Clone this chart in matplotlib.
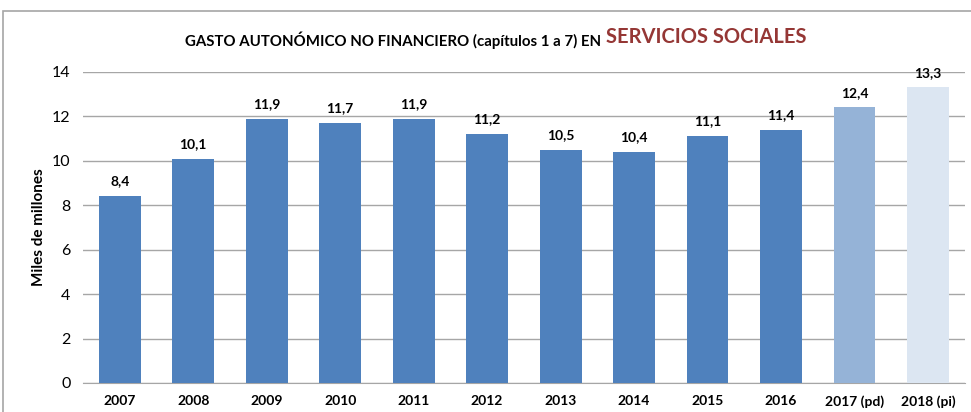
import matplotlib.pyplot as plt
from matplotlib.patches import Rectangle

# Gasto autonomico no financiero en servicios sociales (miles de millones)
years = ['2007', '2008', '2009', '2010', '2011', '2012', '2013', '2014',
         '2015', '2016', '2017 (pd)', '2018 (pi)']
values = [8.4, 10.1, 11.9, 11.7, 11.9, 11.2, 10.5, 10.4, 11.1, 11.4, 12.4, 13.3]
colors = ['#4F81BD'] * 10 + ['#95B3D7', '#DCE6F2']

plt.rcParams['font.family'] = ['Lato', 'DejaVu Sans']

fig = plt.figure(figsize=(9.71, 4.12), dpi=100)
ax = fig.add_axes([0.0855, 0.0704, 0.908, 0.755])

x = range(len(years))
ax.bar(x, values, width=0.57, color=colors, zorder=3)

for i, v in enumerate(values):
    ax.text(i, v + 0.4, f'{v:.1f}'.replace('.', ','), ha='center', va='bottom',
            fontsize=10, fontweight='bold')

ax.set_xlim(-0.5, len(years) - 0.5)
ax.set_ylim(0, 14)
ax.set_yticks(range(0, 15, 2))
ax.set_xticks(list(x))
ax.set_xticklabels(years, fontweight='bold', fontsize=10)
ax.tick_params(axis='x', length=0, pad=9)
ax.tick_params(axis='y', length=0, pad=9, labelsize=11.5)
ax.yaxis.grid(True, color='#a6a6a6', linewidth=1, zorder=0)
for s in ['top', 'right', 'left']:
    ax.spines[s].set_visible(False)
ax.spines['bottom'].set_color('#a6a6a6')
ax.set_ylabel('Miles de millones', fontweight='bold', fontsize=11, labelpad=4)

# title in two pieces
fig.text(0.623, 0.903, 'GASTO AUTONÓMICO NO FINANCIERO (capítulos 1 a 7) EN ',
         ha='right', va='center', fontsize=10.8, fontweight='bold')
fig.text(0.624, 0.91, 'SERVICIOS SOCIALES', ha='left', va='center',
         fontsize=14.5, fontweight='bold', color='#953735')

# outer frame of the chart
fig.patches.append(Rectangle((3 / 971, -0.05), 1.2, 1.05 - 11 / 412,
                             transform=fig.transFigure, fill=False,
                             edgecolor='#a6a6a6', linewidth=1.2))

fig.savefig('out.png', dpi=100)
